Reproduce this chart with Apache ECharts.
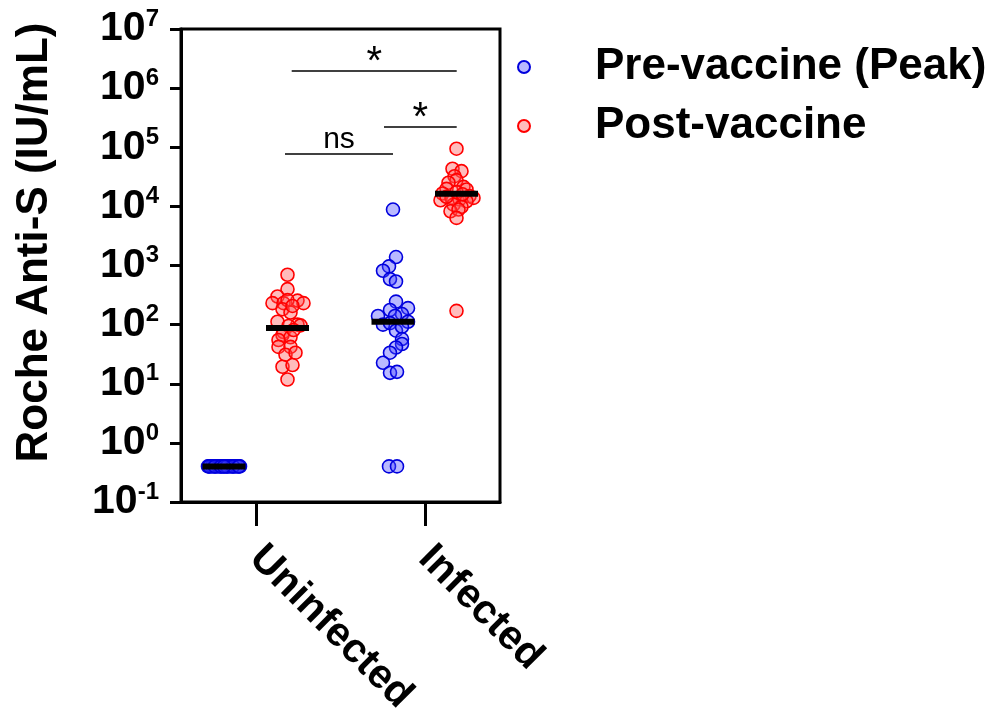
<!DOCTYPE html>
<html>
<head>
<meta charset="utf-8">
<script src="https://cdn.jsdelivr.net/npm/echarts@6/dist/echarts.min.js"></script>
<style>
  html, body { margin: 0; padding: 0; background: #fff; }
  #main { width: 993px; height: 711px; }
</style>
</head>
<body>
<div id="main"></div>
<script>
// categories and series
const categories = ['Uninfected', 'Infected'];
const seriesNames = ['Pre-vaccine (Peak)', 'Post-vaccine'];
const yTickExponents = [-1, 0, 1, 2, 3, 4, 5, 6, 7];

// values (IU/mL) + horizontal jitter of each dot
const uninfPreValues = [0.4, 0.4, 0.4, 0.4, 0.4, 0.4, 0.4, 0.4, 0.4, 0.4, 0.4, 0.4, 0.4, 0.4, 0.4, 0.4, 0.4, 0.4, 0.4, 0.4, 0.4, 0.4, 0.4, 0.4];
const uninfPreJitter = [-16, -14, -12, -10, -8, -6, -4, -2, 0, 2, 4, 6, 8, 10, 12, 14, 16, -15, -9, -3, 3, 9, 15, 0];

const uninfPostValues = [697, 398, 299, 231, 231, 255, 231, 260, 182, 160, 207, 112, 100, 95, 97, 75, 67, 61, 81, 55, 42, 42, 31, 33.5, 19.4, 20.7, 11.8];
const uninfPostJitter = [0, 0, -10, -15, -4, 10, 16, 0, -5, 3, 5, -10, 10, 1, 13, -4, -5, 3, 6, -9, -9, 3, -2, 8, -5, 5, 0];

const infPreValues = [8830, 1390, 966, 815, 589, 537, 245, 177, 190, 140, 151, 140, 112, 100, 106, 79, 92, 57, 47, 41, 33.5, 22.6, 15.3, 15.9, 0.4, 0.4];
const infPreJitter = [0, 3, -4, -10, -3, 3, 3, -3, 15, -15, 9, 2, 15, -10, -3, 3, 9, 9, 9, 3, -3, -10, -3, 4, -4, 4];

const infPostValues = [94600, 43300, 39400, 32400, 27800, 25100, 19800, 21400, 19300, 16500, 14900, 13900, 12700, 13900, 13100, 12200, 10700, 9820, 8280, 8830, 6380, 171, 14500, 17500, 16000];
const infPostJitter = [0, -4, 5, -2, 0, -8, -10, 7, 10, -14, 13, 17, -16, -5, 3, 10, -3, 5, -6, 2, 0, 0, -10, 0, 6];

const preMedians = [0.4, 112];
const postMedians = [88, 16300];

// significance brackets: [from x, to x, height (IU/mL), text]
const bracketFrom = [110.7, 104, 203];
const bracketTo = [275.7, 212, 275.7];
const bracketLevel = [1.96e6, 7.9e4, 2.2e5];
const bracketText = ['*', 'ns', '*'];

// layout on the x axis (px-like units, 0..319)
const groupCenters = [75, 244];
const preShift = -32;
const postShift = 31.5;

const FONT = "'Liberation Sans', Arial, sans-serif";

function points(group, shift, jitter, values) {
  return values.map((v, i) => [groupCenters[group] + shift + jitter[i], v]);
}

const preData = points(0, preShift, uninfPreJitter, uninfPreValues)
  .concat(points(1, preShift, infPreJitter, infPreValues));
const postData = points(0, postShift, uninfPostJitter, uninfPostValues)
  .concat(points(1, postShift, infPostJitter, infPostValues));
const medianData = [
  [groupCenters[0] + preShift, preMedians[0]],
  [groupCenters[0] + postShift, postMedians[0]],
  [groupCenters[1] + preShift, preMedians[1]],
  [groupCenters[1] + postShift, postMedians[1]]
];

const bracketLines = bracketText.map((t, i) => [
  {
    coord: [bracketFrom[i], bracketLevel[i]],
    label: t === '*' ? { formatter: t, fontSize: 40, distance: -12 } : { formatter: t, fontSize: 30, distance: -1 }
  },
  { coord: [bracketTo[i], bracketLevel[i]] }
]);

var myChart = echarts.init(document.getElementById('main'));

myChart.setOption({
  animation: false,
  backgroundColor: '#fff',
  grid: {
    left: 181, right: 493, top: 29, bottom: 209,
    show: true, borderColor: '#000', borderWidth: 3,
    outerBoundsMode: 'none'
  },
  legend: {
    data: seriesNames,
    orient: 'vertical',
    left: 512,
    top: 40,
    itemWidth: 12,
    itemHeight: 12,
    itemGap: 15,
    icon: 'circle',
    textStyle: {
      fontFamily: FONT, fontWeight: 'bold', fontSize: 44, color: '#000',
      padding: [0, 0, 0, 60]
    }
  },
  xAxis: {
    type: 'value',
    min: 0,
    max: 319,
    splitLine: { show: false },
    axisLine: { lineStyle: { color: '#000', width: 3 } },
    axisTick: { show: true, customValues: groupCenters, length: 24, lineStyle: { color: '#000', width: 3 } },
    axisLabel: {
      customValues: groupCenters,
      rotate: -45,
      margin: 50,
      formatter: v => categories[groupCenters.indexOf(v)] || '',
      fontFamily: FONT, fontWeight: 'bold', fontSize: 41, color: '#000'
    }
  },
  yAxis: {
    type: 'log',
    logBase: 10,
    min: 0.1,
    max: 1e7,
    interval: 1,
    name: 'Roche Anti-S (IU/mL)',
    nameLocation: 'middle',
    nameGap: 124,
    nameTextStyle: {
      fontFamily: FONT, fontWeight: 'bold', fontSize: 44, color: '#000',
      padding: [0, 0, 0, 46]
    },
    splitLine: { show: false },
    axisLine: { show: true, lineStyle: { color: '#000', width: 3 } },
    axisTick: { show: true, length: 11, lineStyle: { color: '#000', width: 3 } },
    axisLabel: {
      margin: 22,
      formatter: v => {
        const e = Math.round(Math.log10(v));
        return yTickExponents.includes(e) ? '{b|10}{s|' + e + '}' : '';
      },
      rich: {
        b: { fontFamily: FONT, fontWeight: 'bold', fontSize: 41, color: '#000', lineHeight: 44 },
        s: { fontFamily: FONT, fontWeight: 'bold', fontSize: 24, color: '#000', verticalAlign: 'top', lineHeight: 30 }
      }
    }
  },
  series: [
    {
      name: seriesNames[0],
      type: 'scatter',
      data: preData,
      symbolSize: 13,
      itemStyle: { color: 'rgba(70,70,255,0.38)', borderColor: '#0000dd', borderWidth: 1.6, opacity: 1 },
      z: 2
    },
    {
      name: seriesNames[1],
      type: 'scatter',
      data: postData,
      symbolSize: 13,
      itemStyle: { color: 'rgba(255,80,80,0.38)', borderColor: '#ff0000', borderWidth: 1.6, opacity: 1 },
      z: 2
    },
    {
      name: 'Median',
      type: 'scatter',
      data: medianData,
      symbol: 'rect',
      symbolSize: [43, 6],
      itemStyle: { color: '#000', opacity: 1 },
      z: 5,
      silent: true,
      markLine: {
        silent: true,
        symbol: ['none', 'none'],
        lineStyle: { color: '#000', width: 1.5, type: 'solid' },
        label: {
          position: 'middle',
          color: '#000',
          fontFamily: FONT
        },
        data: bracketLines
      }
    }
  ]
});
</script>
</body>
</html>
